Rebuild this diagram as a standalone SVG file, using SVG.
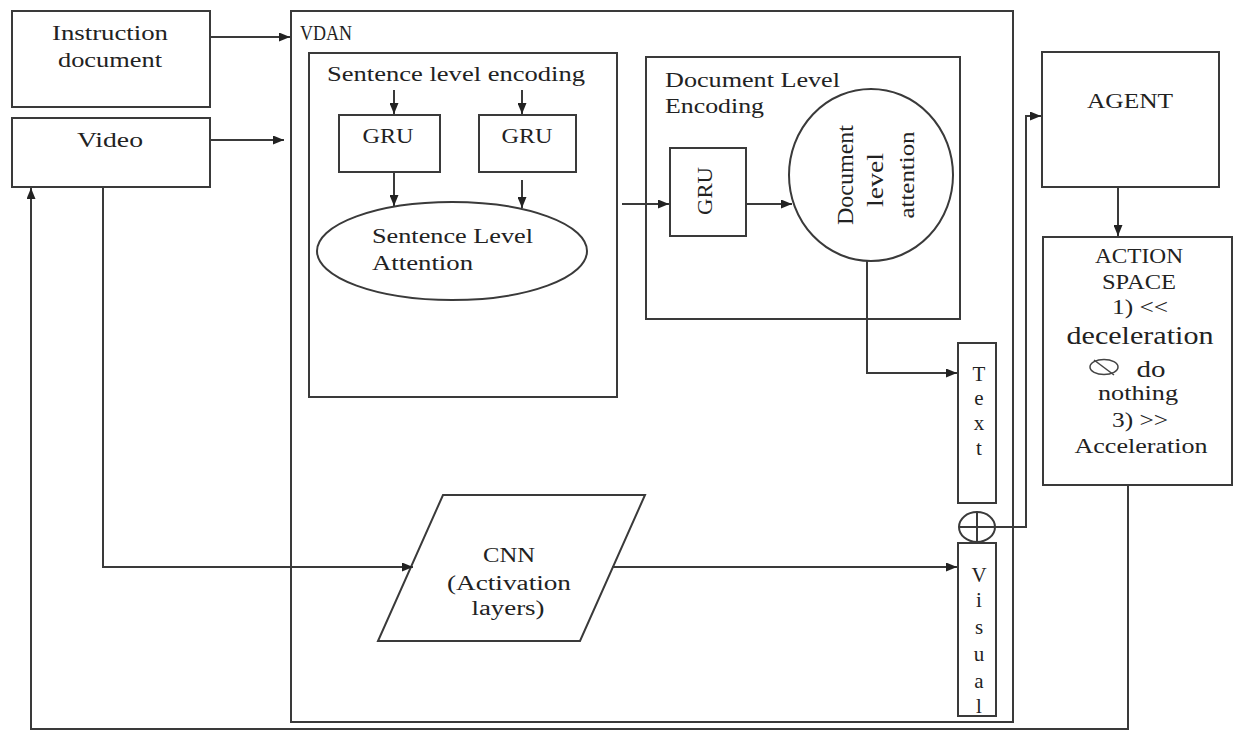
<svg xmlns="http://www.w3.org/2000/svg" width="1233" height="734" viewBox="0 0 1233 734">
<style>
.box{fill:#fff;stroke:#3a3a3a;stroke-width:2}
.ln{fill:none;stroke:#3a3a3a;stroke-width:2}
.sym{fill:none;stroke:#444;stroke-width:1.5}
.t{font-family:"Liberation Serif","Times New Roman",serif;font-size:20px;fill:#222}
.c{text-anchor:middle}
.v{font-size:21px}
</style>
<defs>
<marker id="ah" markerWidth="11" markerHeight="9" refX="11" refY="4.5" orient="auto" markerUnits="userSpaceOnUse"><path d="M0,0 L11,4.5 L0,9 Z" fill="#222"/></marker>
</defs>
<rect width="1233" height="734" fill="#fff"/>
<g id="vdan">
<rect class="box" x="291" y="11" width="722" height="711"/>
<text class="t" x="300" y="40" textLength="52" lengthAdjust="spacingAndGlyphs">VDAN</text>
</g>
<g id="instruction">
<rect class="box" x="12" y="11" width="198" height="96"/>
<text class="t c" x="110" y="40" textLength="116" lengthAdjust="spacingAndGlyphs">Instruction</text>
<text class="t c" x="110" y="67" textLength="104" lengthAdjust="spacingAndGlyphs">document</text>
</g>
<g id="video">
<rect class="box" x="12" y="118" width="198" height="69"/>
<text class="t c" x="110" y="147" textLength="66" lengthAdjust="spacingAndGlyphs">Video</text>
</g>
<g id="sentence-encoding">
<rect class="box" x="309" y="53" width="308" height="344"/>
<text class="t c" x="456" y="81" textLength="258" lengthAdjust="spacingAndGlyphs">Sentence level encoding</text>
</g>
<g id="gru1">
<rect class="box" x="339" y="115" width="101" height="57"/>
<text class="t c" x="388" y="143" textLength="51" lengthAdjust="spacingAndGlyphs">GRU</text>
</g>
<g id="gru2">
<rect class="box" x="479" y="115" width="97" height="57"/>
<text class="t c" x="527" y="143" textLength="51" lengthAdjust="spacingAndGlyphs">GRU</text>
</g>
<g id="sentence-attention">
<ellipse class="box" cx="452" cy="251" rx="135" ry="49"/>
<text class="t" x="372" y="243" textLength="161" lengthAdjust="spacingAndGlyphs">Sentence Level</text>
<text class="t" x="372" y="270" textLength="101" lengthAdjust="spacingAndGlyphs">Attention</text>
</g>
<g id="document-encoding">
<rect class="box" x="646" y="57" width="314" height="262"/>
<text class="t" x="665" y="87" textLength="175" lengthAdjust="spacingAndGlyphs">Document Level</text>
<text class="t" x="665" y="113" textLength="99" lengthAdjust="spacingAndGlyphs">Encoding</text>
</g>
<g id="gru3">
<rect class="box" x="670" y="148" width="76" height="88"/>
<text class="t c" x="0" y="0" transform="translate(712,191) rotate(-90)" textLength="48" lengthAdjust="spacingAndGlyphs" style="font-size:22px">GRU</text>
</g>
<g id="document-attention">
<ellipse class="box" cx="871" cy="175" rx="82" ry="86"/>
<text class="t c" x="0" y="0" transform="translate(853,175) rotate(-90)" textLength="100" lengthAdjust="spacingAndGlyphs" style="font-size:23px">Document</text>
<text class="t c" x="0" y="0" transform="translate(883,180) rotate(-90)" textLength="54" lengthAdjust="spacingAndGlyphs" style="font-size:23px">level</text>
<text class="t c" x="0" y="0" transform="translate(914,175) rotate(-90)" textLength="87" lengthAdjust="spacingAndGlyphs" style="font-size:21px">attention</text>
</g>
<g id="text-box">
<rect class="box" x="958" y="343" width="38" height="160"/>
<text class="t c v" x="979" y="381">T</text>
<text class="t c v" x="979" y="405">e</text>
<text class="t c v" x="979" y="430">x</text>
<text class="t c v" x="979" y="455">t</text>
</g>
<g id="visual-box">
<rect class="box" x="958" y="543" width="38" height="173"/>
<text class="t c v" x="979" y="582">V</text>
<text class="t c v" x="979" y="607">i</text>
<text class="t c v" x="979" y="634">s</text>
<text class="t c v" x="979" y="661">u</text>
<text class="t c v" x="979" y="688">a</text>
<text class="t c v" x="979" y="713">l</text>
</g>
<g id="concat">
<ellipse class="box" cx="977" cy="527" rx="18" ry="15"/>
<path class="ln" d="M977,512 V542 M959,527 H995"/>
</g>
<g id="cnn">
<polygon class="box" points="443,495 645,495 580,641 378,641"/>
<text class="t c" x="509" y="562" textLength="52" lengthAdjust="spacingAndGlyphs">CNN</text>
<text class="t c" x="509" y="590" textLength="124" lengthAdjust="spacingAndGlyphs">(Activation</text>
<text class="t c" x="508" y="615" textLength="73" lengthAdjust="spacingAndGlyphs">layers)</text>
</g>
<g id="agent">
<rect class="box" x="1042" y="52" width="177" height="135"/>
<text class="t c" x="1130" y="108" textLength="86" lengthAdjust="spacingAndGlyphs">AGENT</text>
</g>
<g id="action-space">
<rect class="box" x="1043" y="237" width="189" height="248"/>
<text class="t c" x="1139" y="263" textLength="88" lengthAdjust="spacingAndGlyphs">ACTION</text>
<text class="t c" x="1139" y="289" textLength="74" lengthAdjust="spacingAndGlyphs">SPACE</text>
<text class="t c" x="1140" y="314" textLength="56" lengthAdjust="spacingAndGlyphs">1) &lt;&lt;</text>
<text class="t c" x="1140" y="344" textLength="147" lengthAdjust="spacingAndGlyphs" style="font-size:26px">deceleration</text>
<ellipse class="sym" cx="1104" cy="367" rx="14" ry="7.5"/>
<path class="sym" d="M1094,360 L1114,375"/>
<text class="t c" x="1151" y="377" textLength="29" lengthAdjust="spacingAndGlyphs" style="font-size:24px">do</text>
<text class="t c" x="1138" y="400" textLength="80" lengthAdjust="spacingAndGlyphs">nothing</text>
<text class="t c" x="1140" y="427" textLength="56" lengthAdjust="spacingAndGlyphs">3) &gt;&gt;</text>
<text class="t c" x="1141" y="453" textLength="133" lengthAdjust="spacingAndGlyphs">Acceleration</text>
</g>
<g id="connectors">
<path class="ln" marker-end="url(#ah)" d="M210,37 H290"/>
<path class="ln" marker-end="url(#ah)" d="M210,140 H284"/>
<path class="ln" marker-end="url(#ah)" d="M394,90 V114"/>
<path class="ln" marker-end="url(#ah)" d="M522,90 V114"/>
<path class="ln" marker-end="url(#ah)" d="M394,172 V206"/>
<path class="ln" marker-end="url(#ah)" d="M522,180 V208"/>
<path class="ln" marker-end="url(#ah)" d="M622,204 H669"/>
<path class="ln" marker-end="url(#ah)" d="M746,204 H792"/>
<path class="ln" marker-end="url(#ah)" d="M867,261 V373 H957"/>
<path class="ln" marker-end="url(#ah)" d="M612,567 H957"/>
<path class="ln" marker-end="url(#ah)" d="M103,187 V567 H413"/>
<path class="ln" marker-end="url(#ah)" d="M995,527 H1026 V116 H1041"/>
<path class="ln" marker-end="url(#ah)" d="M1118,187 V236"/>
<path class="ln" marker-end="url(#ah)" d="M1128,485 V729 H31 V188"/>
</g>
</svg>
